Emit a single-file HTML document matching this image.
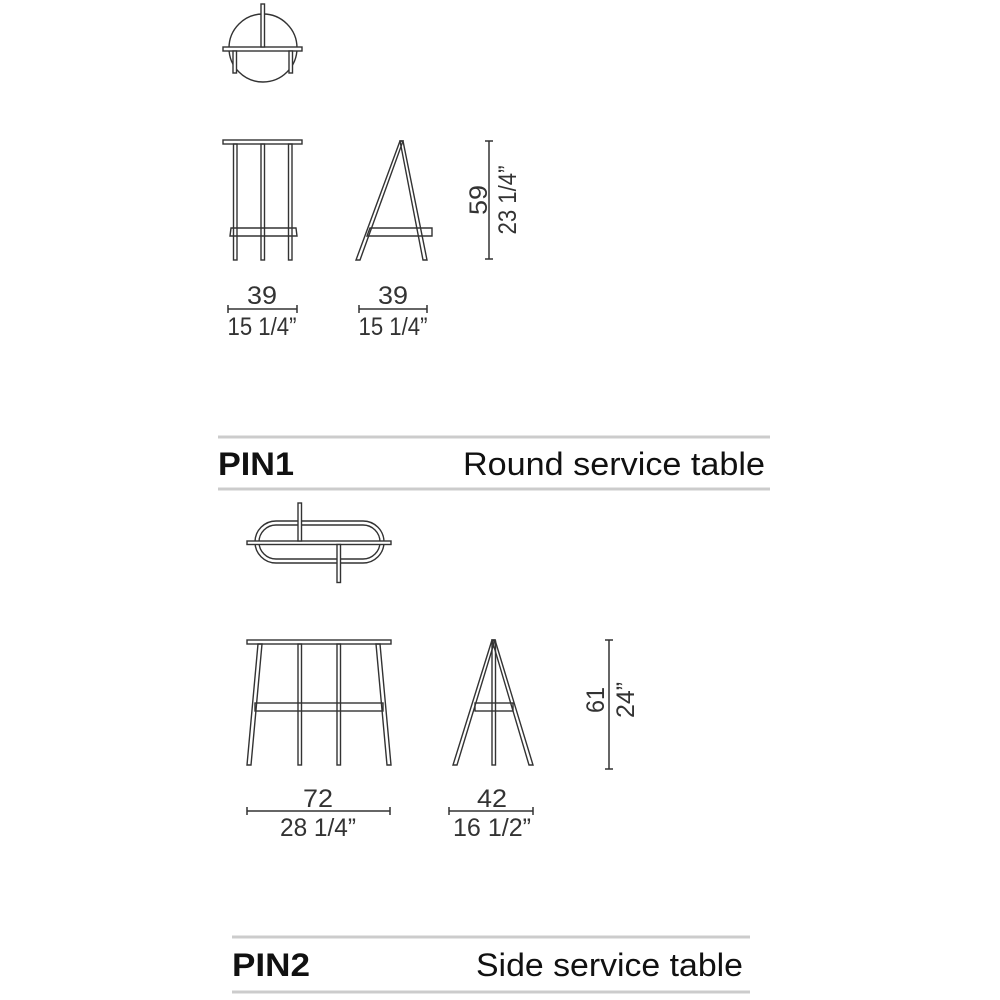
<!DOCTYPE html>
<html><head><meta charset="utf-8"><style>
html,body{margin:0;padding:0;background:#fff;}
svg{display:block;}
.d{font-family:"Liberation Sans",sans-serif;font-size:25px;fill:#333;}
.h{font-family:"Liberation Sans",sans-serif;font-size:32px;fill:#111;}
</style></head><body>
<svg width="1000" height="1000" viewBox="0 0 1000 1000" xmlns="http://www.w3.org/2000/svg">
<g fill="none" stroke="#333" stroke-width="1.4">
<circle cx="263" cy="48" r="34"/>
<rect x="223" y="47" width="79" height="4" fill="#fff"/>
<rect x="261" y="4" width="3.5" height="43" fill="#fff"/>
<rect x="233" y="51" width="3.5" height="22" fill="#fff"/>
<rect x="289" y="51" width="3.5" height="22" fill="#fff"/>
<rect x="223" y="140" width="79" height="4"/>
<rect x="233.5" y="144" width="3.5" height="116"/>
<rect x="261" y="144" width="3.5" height="116"/>
<rect x="288.5" y="144" width="3.5" height="116"/>
<path d="M231 228 L296 228 L297 236 L230 236 Z"/>
<path d="M400 141 L403 141 L360 260 L356 260 Z"/>
<path d="M400 141 L403 141 L427 260 L423 260 Z"/>
<path d="M370 228 L432 228 L432 236 L367 236 Z"/>
<rect x="255" y="521" width="129" height="42" rx="21"/>
<rect x="259" y="525" width="121" height="34" rx="17"/>
<rect x="247" y="541" width="144" height="3.5" fill="#fff"/>
<rect x="298" y="503" width="3.5" height="38" fill="#fff"/>
<rect x="337" y="544.5" width="3.5" height="38" fill="#fff"/>
<rect x="247" y="640" width="144" height="4"/>
<path d="M258 644 L262 644 L251 765 L247 765 Z"/>
<path d="M376 644 L380 644 L391 765 L387 765 Z"/>
<rect x="298" y="644" width="3.5" height="121"/>
<rect x="337" y="644" width="3.5" height="121"/>
<rect x="255" y="703" width="128" height="8"/>
<path d="M492 640 L495 640 L457 765 L453 765 Z"/>
<path d="M492 640 L495 640 L533 765 L529 765 Z"/>
<rect x="492" y="641" width="3.5" height="124"/>
<rect x="475" y="703" width="38" height="8"/>
</g>
<g stroke="#333" stroke-width="1.5">
<line x1="489" y1="141" x2="489" y2="259"/><line x1="485" y1="141" x2="493" y2="141"/><line x1="485" y1="259" x2="493" y2="259"/>
<line x1="228" y1="309" x2="297" y2="309"/><line x1="228" y1="305" x2="228" y2="313"/><line x1="297" y1="305" x2="297" y2="313"/>
<line x1="359" y1="309" x2="427" y2="309"/><line x1="359" y1="305" x2="359" y2="313"/><line x1="427" y1="305" x2="427" y2="313"/>
<line x1="609" y1="640" x2="609" y2="769"/><line x1="605" y1="640" x2="613" y2="640"/><line x1="605" y1="769" x2="613" y2="769"/>
<line x1="247" y1="811" x2="390" y2="811"/><line x1="247" y1="807" x2="247" y2="815"/><line x1="390" y1="807" x2="390" y2="815"/>
<line x1="449" y1="811" x2="533" y2="811"/><line x1="449" y1="807" x2="449" y2="815"/><line x1="533" y1="807" x2="533" y2="815"/>
</g>
<g class="d" text-anchor="middle" lengthAdjust="spacingAndGlyphs">
<text x="262" y="304" textLength="30" lengthAdjust="spacingAndGlyphs">39</text><text x="262" y="335" textLength="69" lengthAdjust="spacingAndGlyphs">15 1/4”</text>
<text x="393" y="304" textLength="30" lengthAdjust="spacingAndGlyphs">39</text><text x="393" y="335" textLength="69" lengthAdjust="spacingAndGlyphs">15 1/4”</text>
<text transform="translate(487,200) rotate(-90)" textLength="30" lengthAdjust="spacingAndGlyphs">59</text>
<text transform="translate(516,200) rotate(-90)" textLength="69" lengthAdjust="spacingAndGlyphs">23 1/4”</text>
<text x="318" y="807" textLength="30" lengthAdjust="spacingAndGlyphs">72</text><text x="318" y="836" textLength="76" lengthAdjust="spacingAndGlyphs">28 1/4”</text>
<text x="492" y="807" textLength="30" lengthAdjust="spacingAndGlyphs">42</text><text x="492" y="836" textLength="78" lengthAdjust="spacingAndGlyphs">16 1/2”</text>
<text transform="translate(604,700) rotate(-90)" textLength="26" lengthAdjust="spacingAndGlyphs">61</text>
<text transform="translate(634,700) rotate(-90)" textLength="36" lengthAdjust="spacingAndGlyphs">24”</text>
</g>
<g fill="#ccc">
<rect x="218" y="435.5" width="552" height="3"/>
<rect x="218" y="487.5" width="552" height="3"/>
<rect x="232" y="935.5" width="518" height="3"/>
<rect x="232" y="990.5" width="518" height="3"/>
</g>
<text class="h" x="218" y="475" font-weight="bold" textLength="76" lengthAdjust="spacingAndGlyphs">PIN1</text>
<text class="h" x="463" y="475" textLength="302" lengthAdjust="spacingAndGlyphs">Round service table</text>
<text class="h" x="232" y="976" font-weight="bold" textLength="78" lengthAdjust="spacingAndGlyphs">PIN2</text>
<text class="h" x="476" y="976" textLength="267" lengthAdjust="spacingAndGlyphs">Side service table</text>
</svg>
</body></html>
